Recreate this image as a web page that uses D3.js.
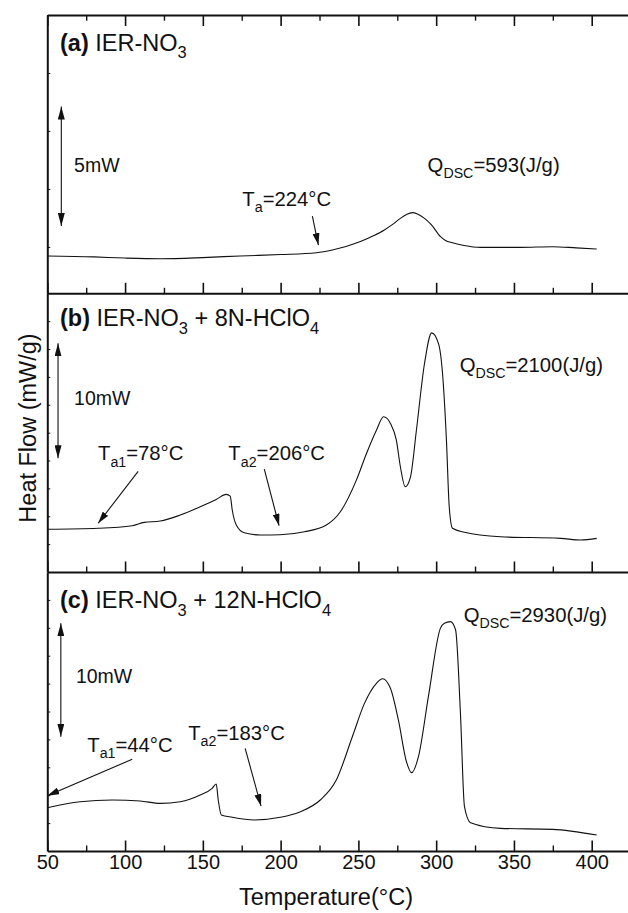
<!DOCTYPE html>
<html>
<head>
<meta charset="utf-8">
<script src="https://cdn.jsdelivr.net/npm/d3@7"></script>
<style>
body { margin: 0; background: #fff; }
svg text { font-family: "Liberation Sans", Arial, Helvetica, sans-serif; fill: #111; }
</style>
</head>
<body>
<div id="chart-area"></div>
<script>
// DSC traces: temperature (°C) vs heat flow (mW, arbitrary offset)
const tempA = [50, 80, 100, 122.6, 150, 174, 200, 223, 233.3, 242, 251.3, 260, 266.7, 272, 277, 281, 284.7, 288, 292.5, 297, 302.8, 306, 310.5, 318, 328.5, 354.2, 374.8, 390, 403.2];
const flowA = [1.61, 1.57, 1.52, 1.49, 1.54, 1.61, 1.67, 1.75, 1.87, 2.02, 2.23, 2.49, 2.73, 2.97, 3.23, 3.40, 3.48, 3.42, 3.23, 2.95, 2.44, 2.28, 2.18, 2.06, 1.98, 1.98, 2.01, 1.96, 1.91];

const tempB = [50, 82.7, 104.6, 112.3, 122.6, 135.5, 148.3, 158.6, 165, 167.6, 168.9, 171.5, 176.6, 187, 199.8, 215.3, 229.4, 238.4, 248.7, 255.2, 261.6, 266.2, 270.6, 274.4, 277, 280.1, 283.5, 287.3, 292.5, 297.1, 301.5, 304.1, 306.6, 308.4, 310.5, 318.2, 341.4, 380, 392.9, 403.2];
const flowB = [3.83, 3.92, 4.15, 4.45, 4.57, 5.11, 5.85, 6.51, 6.96, 6.81, 5.56, 4.21, 3.52, 3.32, 3.34, 3.61, 4.21, 5.40, 8.24, 10.63, 12.72, 13.92, 13.32, 11.83, 9.44, 7.65, 8.54, 12.72, 18.70, 21.45, 20.49, 17.80, 11.83, 5.85, 3.92, 3.56, 3.16, 3.02, 2.87, 3.02];

const tempC = [50, 71.1, 91.7, 109.7, 122.6, 135.5, 148.3, 156, 158.6, 159.9, 161.9, 168.9, 183.1, 199.8, 212.7, 225.5, 235.8, 246.1, 253.9, 261.6, 265.5, 270.6, 275.7, 280.9, 284.2, 288.6, 295, 302.7, 305.3, 309.2, 312.5, 315.6, 318.2, 322.1, 341.4, 374.8, 403.2];
const flowC = [3.88, 4.42, 4.57, 4.48, 4.27, 4.42, 5.02, 5.62, 6.00, 4.57, 3.23, 3.02, 2.78, 3.02, 3.52, 4.57, 6.36, 10.24, 13.23, 15.03, 15.44, 14.58, 11.74, 8.00, 7.02, 8.45, 13.83, 19.95, 20.40, 20.55, 19.80, 12.34, 3.97, 2.54, 2.03, 1.94, 1.43];

const majorTicks = [50, 100, 150, 200, 250, 300, 350, 400];
const minorTicks = [75, 125, 175, 225, 275, 325, 375];
const yTicksA = [2, 4.5, 7, 9.5];
const yTicksBC = [2.5, 5, 7.5, 10, 12.5, 15, 17.5, 20, 22.5];

const titleA = [["(a)", "bold"], [" IER-NO"], ["3", "sub"]];
const titleB = [["(b)", "bold"], [" IER-NO"], ["3", "sub"], [" + 8N-HClO"], ["4", "sub"]];
const titleC = [["(c)", "bold"], [" IER-NO"], ["3", "sub"], [" + 12N-HClO"], ["4", "sub"]];

// annotations, in data units (temperature, heat flow)
const notesA = [
    {parts: [["Q"], ["DSC", "sub"], ["=593(J/g)"]], t: 294.5, v: 5.24},
    {parts: [["T"], ["a", "sub"], ["=224°C"]], t: 175.4, v: 3.78}
];
const notesB = [
    {parts: [["Q"], ["DSC", "sub"], ["=2100(J/g)"]], t: 315.1, v: 17.96},
    {parts: [["T"], ["a1", "sub"], ["=78°C"]], t: 82.6, v: 10.04},
    {parts: [["T"], ["a2", "sub"], ["=206°C"]], t: 166.4, v: 10.04}
];
const notesC = [
    {parts: [["Q"], ["DSC", "sub"], ["=2930(J/g)"]], t: 317.7, v: 20.55},
    {parts: [["T"], ["a1", "sub"], ["=44°C"]], t: 75.7, v: 8.90},
    {parts: [["T"], ["a2", "sub"], ["=183°C"]], t: 140.6, v: 9.95}
];
const pointersA = [[220.4, 3.33, 224.3, 2.08]];
const pointersB = [[108.4, 9.02, 82.7, 4.37], [189.5, 9.23, 199.0, 4.15]];
const pointersC = [[104.6, 8.22, 50, 4.96], [177.2, 9.20, 187.4, 4.03]];

const panels = [
    {top: 15, bottom: 293.3, domain: [0, 12], yTicks: yTicksA, temp: tempA, flow: flowA,
     title: titleA, tt: 58.2, tv: 10.45, bar: [59.0, 8.05, 2.90], barLabel: "5mW", bl: [67.2, 5.24],
     notes: notesA, pointers: pointersA},
    {top: 293.3, bottom: 572, domain: [0, 25], yTicks: yTicksBC, temp: tempB, flow: flowB,
     title: titleB, tt: 58.2, tv: 22.05, bar: [56.9, 20.51, 10.20], barLabel: "10mW", bl: [67.2, 14.98],
     notes: notesB, pointers: pointersB},
    {top: 572, bottom: 851, domain: [0, 25], yTicks: yTicksBC, temp: tempC, flow: flowC,
     title: titleC, tt: 58.2, tv: 21.75, bar: [58.7, 20.40, 10.24], barLabel: "10mW", bl: [68.4, 15.03],
     notes: notesC, pointers: pointersC}
];

const svg = d3.select("#chart-area").append("svg")
                .attr("width", 628)
                .attr("height", 913);

const defs = svg.append("defs");
defs.append("marker")
    .attr("id", "head-big")
    .attr("markerUnits", "userSpaceOnUse")
    .attr("viewBox", "0 0 13 7")
    .attr("refX", 13).attr("refY", 3.5)
    .attr("markerWidth", 13).attr("markerHeight", 7)
    .attr("orient", "auto-start-reverse")
    .append("path").attr("d", "M0,0 L13,3.5 L0,7 Z").attr("fill", "#111");
defs.append("marker")
    .attr("id", "head-small")
    .attr("markerUnits", "userSpaceOnUse")
    .attr("viewBox", "0 0 12 7")
    .attr("refX", 12).attr("refY", 3.5)
    .attr("markerWidth", 12).attr("markerHeight", 7)
    .attr("orient", "auto")
    .append("path").attr("d", "M0,0 L12,3.5 L0,7 Z").attr("fill", "#111");

const x = d3.scaleLinear().domain([50, 425]).range([47.3, 630.6]);

function addText(g, parts, px, py, size) {
    const t = g.append("text").attr("x", px).attr("y", py).style("font-size", size + "px");
    const shift = size * 0.32;
    let down = false;
    parts.forEach(p => {
        const s = t.append("tspan").text(p[0]);
        if (p[1] === "bold") s.style("font-weight", "bold");
        if (p[1] === "sub") {
            s.style("font-size", (size * 0.7) + "px").attr("dy", down ? 0 : shift);
            down = true;
        } else if (down) {
            s.attr("dy", -shift);
            down = false;
        }
    });
}

panels.forEach((p, i) => {
    const y = d3.scaleLinear().domain(p.domain).range([p.bottom, p.top]);
    const g = svg.append("g");

    // curve
    g.append("path")
        .datum(d3.zip(p.temp, p.flow))
        .attr("fill", "none")
        .attr("stroke", "#111")
        .attr("stroke-width", 1.1)
        .attr("d", d3.line().x(d => x(d[0])).y(d => y(d[1])).curve(d3.curveMonotoneX));

    // bottom edge with inward ticks
    const bot = g.append("g").attr("transform", `translate(0,${p.bottom})`)
        .call(d3.axisTop(x).tickValues(majorTicks).tickSize(10.5).tickSizeOuter(0).tickFormat(""));
    bot.select(".domain").attr("stroke-width", 2).attr("stroke", "#111");
    bot.selectAll(".tick line").attr("stroke-width", 1.6).attr("stroke", "#111");
    const botMinor = g.append("g").attr("transform", `translate(0,${p.bottom})`)
        .call(d3.axisTop(x).tickValues(minorTicks).tickSize(5.5).tickFormat(""));
    botMinor.select(".domain").remove();
    botMinor.selectAll(".tick line").attr("stroke-width", 1.4).attr("stroke", "#111");

    if (i === 0) {
        const top = g.append("g").attr("transform", `translate(0,${p.top})`)
            .call(d3.axisBottom(x).tickValues(majorTicks).tickSize(11).tickSizeOuter(0).tickFormat(""));
        top.select(".domain").attr("stroke-width", 2).attr("stroke", "#111");
        top.selectAll(".tick line").attr("stroke-width", 1.6).attr("stroke", "#111");
        const topMinor = g.append("g").attr("transform", `translate(0,${p.top})`)
            .call(d3.axisBottom(x).tickValues(minorTicks).tickSize(5.7).tickFormat(""));
        topMinor.select(".domain").remove();
        topMinor.selectAll(".tick line").attr("stroke-width", 1.4).attr("stroke", "#111");
    }

    if (i === 2) {
        const lab = g.append("g").attr("transform", `translate(0,${p.bottom})`)
            .call(d3.axisBottom(x).tickValues(majorTicks).tickSize(0).tickPadding(3.5).tickFormat(d => d));
        lab.select(".domain").remove();
        lab.selectAll("text").style("font-size", "20px")
            .style("font-family", "'Liberation Sans', Arial, sans-serif").attr("fill", "#111");
    }

    // left edge
    const left = g.append("g").attr("transform", `translate(${x(50)},0)`)
        .call(d3.axisRight(y).tickValues(p.yTicks).tickSize(3).tickSizeOuter(0).tickFormat(""));
    left.select(".domain").attr("stroke-width", 2).attr("stroke", "#111");
    left.selectAll(".tick line").attr("stroke-width", 1).attr("stroke", "#111");

    // panel title
    addText(g, p.title, x(p.tt), y(p.tv), 23.5);

    // scale bar
    g.append("line")
        .attr("x1", x(p.bar[0])).attr("x2", x(p.bar[0]))
        .attr("y1", y(p.bar[1])).attr("y2", y(p.bar[2]))
        .attr("stroke", "#111").attr("stroke-width", 1.1)
        .attr("marker-start", "url(#head-big)")
        .attr("marker-end", "url(#head-big)");
    addText(g, [[p.barLabel]], x(p.bl[0]), y(p.bl[1]), 19.5);

    // notes and pointers
    p.notes.forEach(n => addText(g, n.parts, x(n.t), y(n.v), 20.3));
    g.selectAll(".pointer")
        .data(p.pointers).enter()
        .append("line")
            .attr("x1", d => x(d[0]))
            .attr("y1", d => y(d[1]))
            .attr("x2", d => x(d[2]))
            .attr("y2", d => y(d[3]))
            .attr("stroke", "#111")
            .attr("stroke-width", 1.1)
            .attr("marker-end", "url(#head-small)");
});

// axis titles
svg.append("text")
    .attr("x", 326).attr("y", 905)
    .attr("text-anchor", "middle")
    .style("font-size", "23.5px")
    .text("Temperature(°C)");

svg.append("text")
    .attr("transform", "translate(36,428) rotate(-90)")
    .attr("text-anchor", "middle")
    .style("font-size", "23.5px")
    .text("Heat Flow (mW/g)");
</script>
</body>
</html>
